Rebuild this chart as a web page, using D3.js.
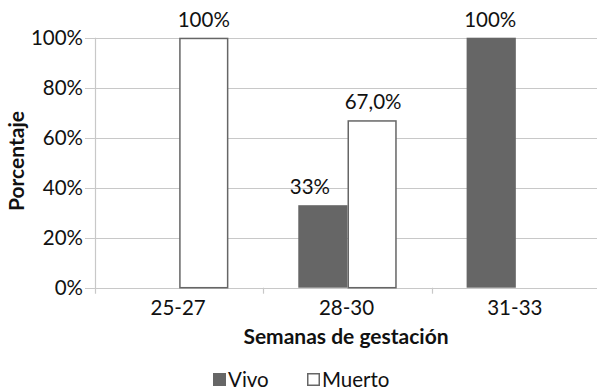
<!DOCTYPE html>
<html>
<head>
<meta charset="utf-8">
<script src="https://cdn.jsdelivr.net/npm/d3@7"></script>
<style>
  html, body { margin: 0; padding: 0; background: #fff; }
  svg { display: block; font-family: Lato, "Open Sans", sans-serif; }
</style>
</head>
<body>
<svg id="chart" width="597" height="391"></svg>
<script>
// Gestational-age groups and outcome shares (percent)
const categories = ["25-27", "28-30", "31-33"];
const seriesNames = ["Vivo", "Muerto"];
const vivo = [0, 33, 100];
const muerto = [100, 67, 0];
const valueLabels = {
  Vivo: [null, "33%", "100%"],
  Muerto: ["100%", "67,0%", null]
};
const yTicks = [0, 20, 40, 60, 80, 100];

const svg = d3.select("#chart");
const margin = { left: 95, right: -3, top: 37.7, bottom: 103.3 };
const W = 597, H = 391;
const plotW = W - margin.left - margin.right;
const plotH = H - margin.top - margin.bottom;

const x = d3.scaleBand().domain(categories).range([margin.left, margin.left + plotW]).paddingInner(0).paddingOuter(0);
const xs = d3.scaleBand().domain(seriesNames).range([0, x.bandwidth()]).paddingInner(0).paddingOuter(0.71);
const y = d3.scaleLinear().domain([0, 100]).range([margin.top + plotH, margin.top]);

const colors = { Vivo: "#666666", Muerto: "#ffffff" };
const strokes = { Vivo: "none", Muerto: "#666666" };
const fontSize = 20.5;
const titleSize = 21;

// horizontal gridlines
svg.append("g").selectAll("line").data(yTicks).join("line")
  .attr("x1", margin.left - 10).attr("x2", W)
  .attr("y1", d => Math.round(y(d)) + 0.5).attr("y2", d => Math.round(y(d)) + 0.5)
  .attr("stroke", "#c8c8c8").attr("stroke-width", 1.2);

// y axis labels
const yAxis = d3.axisLeft(y).tickValues(yTicks).tickFormat(d => d + "%").tickSize(0).tickPadding(12);
const gy = svg.append("g").attr("transform", `translate(${margin.left},0)`).call(yAxis);
gy.select(".domain").remove();
gy.selectAll("text").attr("font-size", fontSize).attr("fill", "#111").attr("font-family", "Lato, sans-serif");

// vertical axis line
svg.append("line")
  .attr("x1", margin.left + 0.5).attr("x2", margin.left + 0.5)
  .attr("y1", margin.top).attr("y2", y(0) + 6)
  .attr("stroke", "#c8c8c8").attr("stroke-width", 1.2);

// x axis category separators
const bounds = categories.map(c => x(c)).concat([x(categories[2]) + x.bandwidth()]);
svg.append("g").selectAll("line").data(bounds.slice(1)).join("line")
  .attr("x1", d => Math.round(d) + 0.5).attr("x2", d => Math.round(d) + 0.5)
  .attr("y1", y(0)).attr("y2", y(0) + 6)
  .attr("stroke", "#c8c8c8").attr("stroke-width", 1.2);

// bars
const rows = [];
categories.forEach((c, i) => {
  rows.push({ cat: c, s: "Vivo", v: vivo[i], label: valueLabels.Vivo[i] });
  rows.push({ cat: c, s: "Muerto", v: muerto[i], label: valueLabels.Muerto[i] });
});
svg.append("g").selectAll("rect").data(rows.filter(r => r.v > 0)).join("rect")
  .attr("x", d => x(d.cat) + xs(d.s) + (d.s === "Muerto" ? 0.75 : 0))
  .attr("y", d => y(d.v) + (d.s === "Muerto" ? 0.75 : 0))
  .attr("width", d => xs.bandwidth() - (d.s === "Muerto" ? 1.5 : 0))
  .attr("height", d => y(0) - y(d.v) - (d.s === "Muerto" ? 0.75 : 0))
  .attr("fill", d => colors[d.s])
  .attr("stroke", d => strokes[d.s])
  .attr("stroke-width", 1.5);

// value labels
const labelShift = { "25-27|Muerto": 0, "28-30|Vivo": -13, "28-30|Muerto": 1, "31-33|Vivo": -1 };
svg.append("g").selectAll("text").data(rows.filter(r => r.label)).join("text")
  .attr("x", d => x(d.cat) + xs(d.s) + xs.bandwidth() / 2 + (labelShift[d.cat + "|" + d.s] || 0))
  .attr("y", d => y(d.v) - 11)
  .attr("text-anchor", "middle")
  .attr("font-size", fontSize).attr("fill", "#111")
  .text(d => d.label);

// x axis category labels
svg.append("g").selectAll("text").data(categories).join("text")
  .attr("x", d => x(d) + x.bandwidth() / 2 - 1)
  .attr("y", y(0) + 27)
  .attr("text-anchor", "middle")
  .attr("font-size", fontSize).attr("fill", "#111")
  .text(d => d);

// axis titles
svg.append("text")
  .attr("x", 346).attr("y", 344)
  .attr("text-anchor", "middle")
  .attr("font-size", titleSize).attr("font-weight", "bold").attr("fill", "#111")
  .text("Semanas de gestación");

svg.append("text")
  .attr("transform", "translate(24,161) rotate(-90)")
  .attr("text-anchor", "middle")
  .attr("font-size", titleSize).attr("font-weight", "bold").attr("fill", "#111")
  .text("Porcentaje");

// legend
const legendX = [213, 307];
const lg = svg.append("g").selectAll("g").data(seriesNames).join("g")
  .attr("transform", (d, i) => `translate(${legendX[i]},373)`);
lg.append("rect")
  .attr("x", d => d === "Muerto" ? 0.75 : 0).attr("y", d => d === "Muerto" ? 0.75 : 0)
  .attr("width", d => d === "Muerto" ? 11.5 : 13).attr("height", d => d === "Muerto" ? 11.5 : 13)
  .attr("fill", d => colors[d]).attr("stroke", d => strokes[d]).attr("stroke-width", 1.5);
lg.append("text")
  .attr("x", 15).attr("y", 13.5)
  .attr("font-size", fontSize).attr("fill", "#111")
  .text(d => d);
</script>
</body>
</html>
